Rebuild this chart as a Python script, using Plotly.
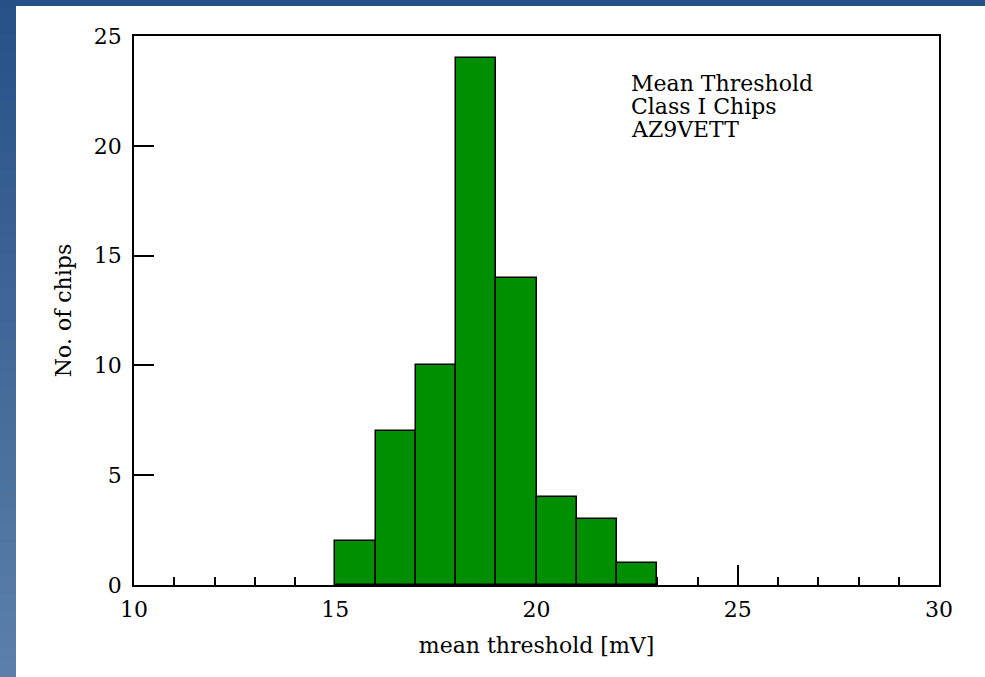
import plotly.graph_objects as go

# Histogram of mean threshold per chip (bin edges every 1 mV)
bin_left = [15, 16, 17, 18, 19, 20, 21, 22]
chip_counts = [2, 7, 10, 24, 14, 4, 3, 1]
bin_width = 1.0

x_ticks = [10, 15, 20, 25, 30]
y_ticks = [0, 5, 10, 15, 20, 25]
info_lines = ["Mean Threshold", "Class I Chips", "AZ9VETT"]

FONT = "DejaVu Serif"
W, H = 985, 677
L, R, T, B = 134, 46, 36, 92

fig = go.Figure()
fig.add_trace(go.Bar(
    x=[b + bin_width / 2 for b in bin_left],
    y=chip_counts,
    width=bin_width,
    marker=dict(color="#008f00", line=dict(color="black", width=1.5)),
    showlegend=False,
))

# Blue gradient frame along the left and top edges of the page
pw, ph = W - L - R, H - T - B
def px_x(px):
    return (px - L) / pw
def px_y(py):
    return (H - B - py) / ph

top_col = (38, 80, 135)
bot_col = (92, 128, 168)
n_bands = 40
shapes = []
for i in range(n_bands):
    y0 = i * H / n_bands
    y1 = (i + 1) * H / n_bands + 2  # overlap neighbours to avoid seams
    f = (i + 0.5) / n_bands
    c = tuple(round(top_col[k] + (bot_col[k] - top_col[k]) * f) for k in range(3))
    shapes.append(dict(type="rect", xref="paper", yref="paper",
                       x0=px_x(-1), x1=px_x(16), y0=px_y(min(y1, H + 1)), y1=px_y(y0),
                       fillcolor="rgb(%d,%d,%d)" % c, line=dict(width=0), layer="below"))
shapes.append(dict(type="rect", xref="paper", yref="paper",
                   x0=px_x(-1), x1=px_x(W + 1), y0=px_y(6), y1=px_y(-1),
                   fillcolor="rgb(%d,%d,%d)" % top_col, line=dict(width=0), layer="below"))

# Info text block, one line per annotation
line_px = [83, 106, 129]
annotations = [dict(
    x=22.3, y=(H - B - py) / ph * 25, xref="x", yref="y",
    text=t, showarrow=False, xanchor="left", yanchor="middle", align="left",
    font=dict(family=FONT, size=22, color="black"),
) for t, py in zip(info_lines, line_px)]

fig.update_layout(
    width=W, height=H,
    margin=dict(l=L, r=R, t=T, b=B),
    paper_bgcolor="white", plot_bgcolor="white",
    font=dict(family=FONT, size=22, color="black"),
    shapes=shapes,
    bargap=0,
    annotations=annotations,
)

fig.update_xaxes(
    range=[10, 30], tickvals=x_ticks, ticktext=[str(v) for v in x_ticks],
    ticks="inside", ticklen=20, tickwidth=1.5, tickcolor="black",
    minor=dict(dtick=1, tick0=10, ticks="inside", ticklen=8, tickwidth=1.5, tickcolor="black"),
    showline=True, linecolor="black", linewidth=1.5, mirror=True,
    showgrid=False, zeroline=False, layer="below traces",
    ticklabelstandoff=4,
    title=dict(text="mean threshold [mV]", standoff=16, font=dict(family=FONT, size=22)),
    tickfont=dict(family=FONT, size=22),
)
fig.update_yaxes(
    range=[0, 25], tickvals=y_ticks, ticktext=[str(v) for v in y_ticks],
    ticks="inside", ticklen=20, tickwidth=1.5, tickcolor="black",
    showline=True, linecolor="black", linewidth=1.5, mirror=True,
    showgrid=False, zeroline=False, layer="below traces",
    ticklabelstandoff=6,
    title=dict(text="No. of chips", standoff=16, font=dict(family=FONT, size=22)),
    tickfont=dict(family=FONT, size=22),
)

fig.write_html("out.html")
